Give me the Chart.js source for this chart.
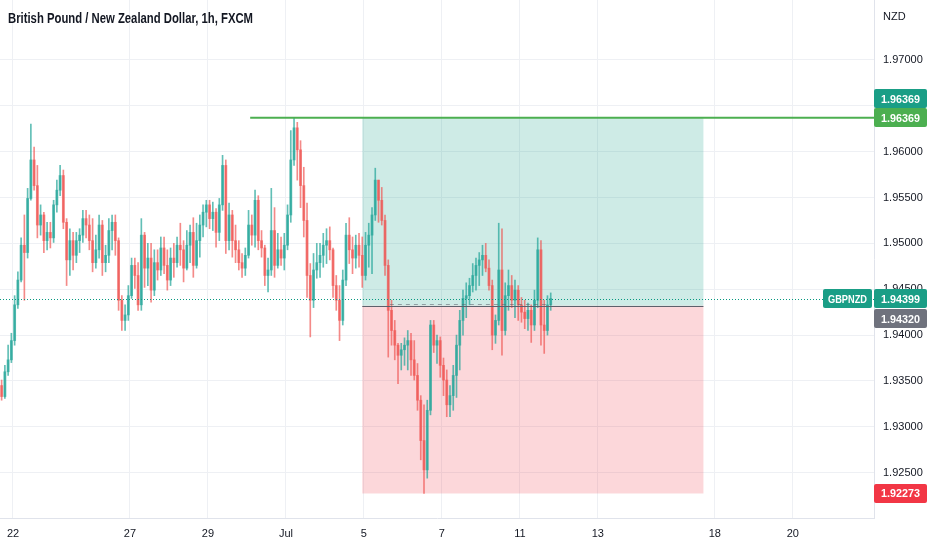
<!DOCTYPE html>
<html><head><meta charset="utf-8">
<script src="https://cdn.jsdelivr.net/npm/chart.js@4.4.1/dist/chart.umd.min.js"></script>
<style>html,body{margin:0;padding:0;background:#fff;}#wrap{position:relative;width:932px;height:550px;}</style>
</head><body><div id="wrap"><canvas id="c" width="932" height="550"></canvas></div>
<script>
const chartTitle = 'British Pound / New Zealand Dollar, 1h, FXCM';
const currencyLabel = 'NZD';
const symbolLabel = 'GBPNZD';
const tickHours = [0, 72, 120, 168, 216, 264, 312, 360, 432, 480];
const tickLabels = ['22', '27', '29', 'Jul', '5', '7', '11', '13', '18', '20'];
const priceTicks = [1.925, 1.930, 1.935, 1.940, 1.945, 1.950, 1.955, 1.960, 1.965, 1.970];
const firstHour = -7;
const candleStepHours = 2;
const firstOpen = 1.9345;
const closes = [
1.9333,1.9360,1.9373,1.9394,1.9433,1.9460,1.9498,1.9490,1.9549,1.9591,
1.9563,1.9520,1.9531,1.9503,1.9512,1.9506,1.9542,1.9558,1.9574,1.9523,
1.9482,1.9503,1.9487,1.9503,1.9509,1.9527,1.9520,1.9503,1.9479,1.9493,
1.9520,1.9479,1.9487,1.9514,1.9523,1.9503,1.9438,1.9416,1.9422,1.9443,
1.9476,1.9465,1.9433,1.9509,1.9473,1.9484,1.9449,1.9479,1.9471,1.9495,
1.9476,1.9460,1.9484,1.9479,1.9498,1.9493,1.9473,1.9498,1.9512,1.9476,
1.9503,1.9520,1.9534,1.9542,1.9527,1.9534,1.9512,1.9542,1.9585,1.9503,
1.9531,1.9503,1.9493,1.9479,1.9473,1.9487,1.9520,1.9509,1.9547,1.9503,
1.9495,1.9465,1.9471,1.9514,1.9476,1.9493,1.9484,1.9498,1.9531,1.9591,
1.9626,1.9602,1.9563,1.9525,1.9465,1.9438,1.9471,1.9479,1.9487,1.9498,
1.9503,1.9493,1.9454,1.9438,1.9416,1.9460,1.9509,1.9493,1.9484,1.9498,
1.9487,1.9465,1.9498,1.9509,1.9531,1.9569,1.9547,1.9525,1.9476,1.9427,
1.9405,1.9389,1.9378,1.9384,1.9389,1.9394,1.9373,1.9356,1.9329,1.9285,
1.9253,1.9318,1.9411,1.9389,1.9394,1.9367,1.9351,1.9324,1.9334,1.9356,
1.9389,1.9416,1.9440,1.9443,1.9454,1.9465,1.9476,1.9482,1.9487,1.9473,
1.9454,1.9400,1.9416,1.9471,1.9405,1.9443,1.9454,1.9438,1.9449,1.9433,
1.9425,1.9418,1.9427,1.9411,1.9438,1.9493,1.9411,1.9405,1.9433,1.94399
];
const highs = [
1.9351,1.9367,1.9389,1.9402,1.9443,1.9469,1.9506,1.9531,1.9560,1.9630,
1.9605,1.9585,1.9542,1.9534,1.9523,1.9523,1.9547,1.9569,1.9585,1.9580,
1.9527,1.9516,1.9512,1.9512,1.9516,1.9536,1.9536,1.9531,1.9527,1.9509,
1.9531,1.9525,1.9498,1.9527,1.9531,1.9531,1.9506,1.9443,1.9433,1.9454,
1.9484,1.9484,1.9479,1.9527,1.9512,1.9500,1.9500,1.9493,1.9493,1.9507,
1.9507,1.9493,1.9495,1.9500,1.9507,1.9522,1.9503,1.9514,1.9520,1.9528,
1.9522,1.9531,1.9542,1.9547,1.9547,1.9545,1.9538,1.9549,1.9596,1.9591,
1.9544,1.9536,1.9520,1.9503,1.9489,1.9495,1.9536,1.9531,1.9558,1.9552,
1.9514,1.9498,1.9484,1.9560,1.9539,1.9511,1.9507,1.9511,1.9542,1.9623,
1.96369,1.9632,1.9612,1.9583,1.9544,1.9478,1.9489,1.9500,1.9500,1.9511,
1.9516,1.9518,1.9495,1.9465,1.9454,1.9471,1.9522,1.9528,1.9507,1.9509,
1.9511,1.9507,1.9512,1.9522,1.9539,1.9582,1.9569,1.9561,1.9531,1.9482,
1.9438,1.9416,1.9391,1.9391,1.9397,1.9405,1.9402,1.9394,1.9369,1.9334,
1.9324,1.9329,1.9416,1.9416,1.9400,1.9398,1.9375,1.9362,1.9345,1.9367,
1.9400,1.9427,1.9449,1.9457,1.9462,1.9478,1.9484,1.9490,1.9498,1.9500,
1.9482,1.9460,1.9422,1.9522,1.9516,1.9457,1.9471,1.9465,1.9460,1.9454,
1.9441,1.9438,1.9435,1.9433,1.9449,1.9506,1.9503,1.9438,1.9443,1.9446
];
const lows = [
1.9329,1.9331,1.9356,1.9370,1.9389,1.9429,1.9458,1.9438,1.9484,1.9547,
1.9558,1.9506,1.9509,1.9490,1.9493,1.9495,1.9501,1.9534,1.9552,1.9516,
1.9454,1.9465,1.9471,1.9479,1.9490,1.9501,1.9506,1.9493,1.9469,1.9473,
1.9484,1.9465,1.9469,1.9479,1.9493,1.9487,1.9427,1.9405,1.9405,1.9416,
1.9440,1.9451,1.9427,1.9427,1.9452,1.9454,1.9436,1.9443,1.9460,1.9465,
1.9467,1.9449,1.9454,1.9463,1.9474,1.9476,1.9458,1.9471,1.9479,1.9463,
1.9473,1.9485,1.9507,1.9518,1.9516,1.9514,1.9496,1.9503,1.9536,1.9489,
1.9493,1.9485,1.9479,1.9471,1.9463,1.9465,1.9484,1.9498,1.9496,1.9493,
1.9485,1.9454,1.9447,1.9465,1.9463,1.9473,1.9476,1.9471,1.9493,1.9523,
1.9585,1.9569,1.9539,1.9507,1.9441,1.9398,1.9430,1.9462,1.9463,1.9474,
1.9478,1.9482,1.9441,1.9427,1.9394,1.9411,1.9454,1.9478,1.9467,1.9473,
1.9474,1.9452,1.9460,1.9474,1.9467,1.9525,1.9523,1.9520,1.9465,1.9376,
1.9389,1.9373,1.9347,1.9362,1.9367,1.9362,1.9356,1.9351,1.9318,1.9264,
1.92273,1.9244,1.9313,1.9381,1.9369,1.9354,1.9334,1.9311,1.9311,1.9318,
1.9332,1.9362,1.9400,1.9419,1.9433,1.9447,1.9449,1.9454,1.9465,1.9469,
1.9449,1.9384,1.9391,1.9411,1.9378,1.9400,1.9427,1.9430,1.9419,1.9416,
1.9414,1.9407,1.9405,1.9392,1.9405,1.9430,1.9389,1.9380,1.9400,1.9427
];
const lastPrice = 1.94399;
const entryPrice = 1.94320;
const targetPrice = 1.96369;
const stopPrice = 1.92273;
const positionHours = [215, 425];
const levelPrice = 1.96369;
const levelStartHour = 146;
const tradePathPrice = 1.94340;
const tradePathHours = [232, 331];
const xRange = [-8, 530];
const yRange = [1.920055, 1.97654];

const opens = closes.map((c, i) => i === 0 ? firstOpen : closes[i - 1]);
const hours = closes.map((_, i) => firstHour + i * candleStepHours);
const isUp = closes.map((c, i) => c >= opens[i]);
const UP = 'rgba(38,166,154,0.72)';
const DOWN = 'rgba(239,83,80,0.68)';
const FONT = 'Liberation Sans, Arial, sans-serif';

function tag(ctx, x, yc, w, bg, text, maxW) {
  const h = 19;
  ctx.fillStyle = bg;
  ctx.beginPath();
  if (ctx.roundRect) ctx.roundRect(x, Math.round(yc - h / 2), w, h, 2); else ctx.rect(x, Math.round(yc - h / 2), w, h);
  ctx.fill();
  ctx.fillStyle = '#ffffff';
  ctx.font = 'bold 11px ' + FONT;
  ctx.textAlign = 'center';
  ctx.textBaseline = 'middle';
  ctx.fillText(text, x + w / 2, Math.round(yc) + 0.5, maxW || (w - 10));
}

const overlay = {
  id: 'overlay',
  beforeDatasetsDraw(chart) {
    const {ctx, scales: {x, y}} = chart;
    const x0 = x.getPixelForValue(positionHours[0]);
    const x1 = x.getPixelForValue(positionHours[1]);
    const yT = y.getPixelForValue(targetPrice);
    const yE = y.getPixelForValue(entryPrice);
    const yS = y.getPixelForValue(stopPrice);
    ctx.save();
    ctx.fillStyle = 'rgba(8,153,129,0.2)';
    ctx.fillRect(x0, yT, x1 - x0, yE - yT);
    ctx.fillStyle = 'rgba(242,54,69,0.2)';
    ctx.fillRect(x0, yE, x1 - x0, yS - yE);
    ctx.restore();
  },
  afterDatasetsDraw(chart) {
    const {ctx, chartArea: a, scales: {x, y}} = chart;
    ctx.save();
    const yE = Math.round(y.getPixelForValue(entryPrice)) + 0.5;
    ctx.strokeStyle = '#5d606b'; ctx.lineWidth = 1;
    ctx.beginPath(); ctx.moveTo(x.getPixelForValue(positionHours[0]), yE); ctx.lineTo(x.getPixelForValue(positionHours[1]), yE); ctx.stroke();
    const yP = Math.round(y.getPixelForValue(tradePathPrice)) + 0.5;
    ctx.strokeStyle = 'rgba(93,96,107,0.55)'; ctx.setLineDash([4, 4]);
    ctx.beginPath(); ctx.moveTo(x.getPixelForValue(tradePathHours[0]), yP); ctx.lineTo(x.getPixelForValue(tradePathHours[1]), yP); ctx.stroke();
    const yC = Math.round(y.getPixelForValue(lastPrice)) + 0.5;
    ctx.strokeStyle = '#089981'; ctx.setLineDash([1, 2]);
    ctx.beginPath(); ctx.moveTo(a.left, yC); ctx.lineTo(a.right, yC); ctx.stroke();
    ctx.setLineDash([]);
    const yL = y.getPixelForValue(levelPrice);
    ctx.strokeStyle = '#4caf50'; ctx.lineWidth = 2;
    ctx.beginPath(); ctx.moveTo(x.getPixelForValue(levelStartHour), yL); ctx.lineTo(a.right, yL); ctx.stroke();
    ctx.restore();
  },
  afterDraw(chart) {
    const {ctx, chartArea: a, scales: {y}} = chart;
    ctx.save();
    ctx.fillStyle = '#131722';
    ctx.font = '600 15px ' + FONT;
    ctx.textBaseline = 'middle';
    ctx.textAlign = 'left';
    const tw = ctx.measureText(chartTitle).width;
    ctx.save();
    ctx.translate(8, 19);
    ctx.scale(245 / tw, 1);
    ctx.fillText(chartTitle, 0, 0);
    ctx.restore();
    ctx.font = '11px ' + FONT;
    ctx.fillStyle = '#131722';
    ctx.fillText(currencyLabel, a.right + 9, 17);
    const xr = a.right;
    tag(ctx, xr, y.getPixelForValue(targetPrice) - 19, 53, '#1a9e86', targetPrice.toFixed(5), 39);
    tag(ctx, xr, y.getPixelForValue(levelPrice), 53, '#4caf50', levelPrice.toFixed(5), 39);
    const yC = y.getPixelForValue(lastPrice);
    tag(ctx, xr - 51, yC, 49, '#1a9e86', symbolLabel, 39);
    tag(ctx, xr, yC, 53, '#1a9e86', lastPrice.toFixed(5), 39);
    tag(ctx, xr, yC + 20, 53, '#6f727d', entryPrice.toFixed(5), 39);
    tag(ctx, xr, y.getPixelForValue(stopPrice), 53, '#f23645', stopPrice.toFixed(5), 39);
    ctx.restore();
  }
};

function noPad(s) { s.paddingTop = 0; s.paddingBottom = 0; s.paddingLeft = 0; s.paddingRight = 0; }

new Chart(document.getElementById('c'), {
  type: 'bar',
  data: {
    datasets: [
      {
        label: 'wicks',
        data: hours.map((h, i) => ({x: h, y: [lows[i], highs[i]]})),
        backgroundColor: c => isUp[c.dataIndex] ? UP : DOWN,
        barThickness: 1,
        grouped: false,
        order: 2
      },
      {
        label: 'bodies',
        data: hours.map((h, i) => ({x: h, y: [opens[i], closes[i]]})),
        backgroundColor: c => isUp[c.dataIndex] ? UP : DOWN,
        barThickness: 2.2,
        minBarLength: 1,
        grouped: false,
        order: 1
      }
    ]
  },
  options: {
    responsive: false,
    animation: false,
    layout: {padding: 0, autoPadding: false},
    plugins: {legend: {display: false}, tooltip: {enabled: false}, title: {display: false}},
    scales: {
      x: {
        type: 'linear', min: xRange[0], max: xRange[1], offset: false,
        grid: {color: '#eef0f4', drawTicks: false, offset: false},
        border: {display: true, color: '#e0e3eb'},
        ticks: {padding: 9, autoSkip: false, maxRotation: 0, color: '#131722', font: {family: FONT, size: 11},
          callback: v => { const k = tickHours.indexOf(v); return k >= 0 ? tickLabels[k] : ''; }},
        afterBuildTicks: s => { s.ticks = tickHours.map(v => ({value: v})); },
        afterFit: s => { s.height = 32; noPad(s); }
      },
      y: {
        type: 'linear', position: 'right', min: yRange[0], max: yRange[1],
        grid: {color: '#eef0f4', drawTicks: false},
        border: {display: true, color: '#e0e3eb'},
        ticks: {padding: 9, color: '#131722', font: {family: FONT, size: 11}, callback: v => Number(v).toFixed(5)},
        afterBuildTicks: s => { s.ticks = priceTicks.map(v => ({value: v})); },
        afterFit: s => { s.width = 58; noPad(s); }
      }
    }
  },
  plugins: [overlay]
});
</script>
</body></html>
